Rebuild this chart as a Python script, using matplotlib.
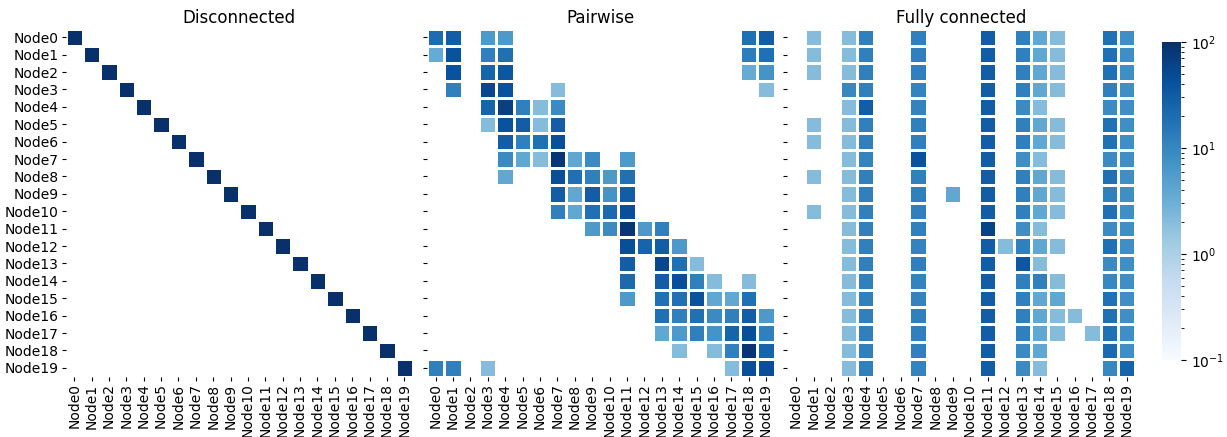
import numpy as np
import matplotlib.pyplot as plt
from matplotlib.colors import LogNorm

N = 20
NODES = [f"Node{i}" for i in range(N)]
TITLES = ["Disconnected", "Pairwise", "Fully connected"]

# Disconnected: each node only talks to itself
DISCONNECTED_DIAG = [100] * N

# Pairwise: one dict per row, {column: value}
PAIRWISE_ROWS = [
    {0: 20, 1: 30, 3: 6, 4: 6, 18: 18, 19: 30},
    {0: 3.5, 1: 40, 3: 12, 4: 18, 18: 13, 19: 18},
    {1: 40, 3: 25, 4: 35, 18: 3.5, 19: 7},
    {1: 12, 3: 55, 4: 40, 7: 2, 19: 2},
    {3: 25, 4: 65, 5: 12, 6: 2, 7: 9},
    {3: 2, 4: 40, 5: 30, 6: 2, 7: 30},
    {4: 30, 5: 12, 6: 18, 7: 45},
    {4: 9, 5: 4, 6: 2, 7: 85, 8: 4, 9: 9, 11: 6},
    {4: 4, 7: 45, 8: 18, 9: 12, 10: 6, 11: 18},
    {7: 30, 8: 4, 9: 30, 10: 7, 11: 30},
    {7: 12, 8: 4, 9: 18, 10: 22, 11: 45},
    {9: 6, 10: 9, 11: 85, 12: 6, 13: 12},
    {11: 45, 12: 25, 13: 30, 14: 6},
    {11: 30, 13: 55, 14: 18, 15: 2},
    {11: 22, 13: 30, 14: 45, 15: 12, 16: 2, 18: 2},
    {11: 6, 13: 18, 14: 18, 15: 40, 16: 4, 17: 4, 18: 18},
    {13: 18, 14: 12, 15: 18, 16: 9, 17: 12, 18: 30, 19: 6},
    {13: 4, 14: 6, 15: 12, 16: 7, 17: 25, 18: 45, 19: 12},
    {14: 2, 16: 2, 17: 12, 18: 85, 19: 25},
    {0: 12, 1: 12, 3: 2, 17: 2, 18: 45, 19: 45},
]

# Fully connected: one list per column (20 rows), 0 = no traffic
FULL_COLUMNS = {
    1: [2, 2, 2, 0, 0, 2, 2, 0, 2, 0, 2, 0, 0, 0, 0, 0, 0, 0, 0, 0],
    3: [2, 2, 2, 10, 2, 2, 2, 2, 2, 2, 2, 2, 2, 2, 2, 2, 2, 2, 2, 2],
    4: [12, 12, 12, 12, 30, 12, 12, 11, 12, 12, 12, 12, 12, 12, 12, 12, 12, 12, 12, 12],
    7: [12, 12, 12, 11, 11, 12, 12, 40, 12, 12, 12, 12, 11, 12, 11, 11, 12, 12, 12, 11],
    9: [0, 0, 0, 0, 0, 0, 0, 0, 0, 4, 0, 0, 0, 0, 0, 0, 0, 0, 0, 0],
    11: [30, 30, 30, 30, 30, 30, 30, 30, 30, 30, 30, 60, 30, 30, 30, 30, 30, 30, 30, 30],
    12: [0, 0, 0, 0, 0, 0, 0, 0, 0, 0, 0, 0, 2, 0, 0, 0, 0, 0, 0, 0],
    13: [12, 12, 12, 12, 9, 12, 12, 8, 12, 12, 12, 8, 12, 35, 12, 12, 12, 12, 9, 9],
    14: [4, 4, 4, 4, 2, 4, 4, 2, 4, 4, 4, 2, 4, 2, 12, 4, 4, 4, 4, 2],
    15: [2, 2, 2, 2, 0, 2, 2, 0, 2, 2, 2, 0, 2, 0, 2, 4, 2, 2, 0, 0],
    16: [0, 0, 0, 0, 0, 0, 0, 0, 0, 0, 0, 0, 0, 0, 0, 0, 2, 0, 0, 0],
    17: [0, 0, 0, 0, 0, 0, 0, 0, 0, 0, 0, 0, 0, 0, 0, 0, 0, 2, 0, 0],
    18: [18, 18, 18, 12, 9, 18, 18, 9, 18, 12, 18, 9, 18, 9, 10, 18, 18, 18, 22, 10],
    19: [8, 8, 8, 8, 8, 8, 8, 8, 8, 8, 8, 8, 8, 8, 8, 8, 8, 8, 8, 25],
}


def build_matrices():
    disc = np.zeros((N, N))
    disc[np.arange(N), np.arange(N)] = DISCONNECTED_DIAG

    pair = np.zeros((N, N))
    for r, row in enumerate(PAIRWISE_ROWS):
        for c, v in row.items():
            pair[r, c] = v

    full = np.zeros((N, N))
    for c, col in FULL_COLUMNS.items():
        full[:, c] = col
    return [disc, pair, full]


W, H = 1227, 437
fig = plt.figure(figsize=(W / 100, H / 100), dpi=100)
norm = LogNorm(vmin=0.1, vmax=100)

# axes boxes in pixels: left, right
panel_x = [(65.5, 413), (426.8, 774.8), (787.4, 1135.4)]
top_px, bot_px = 28.5, 376.5

mesh = None
for i, (mat, title, (x0, x1)) in enumerate(zip(build_matrices(), TITLES, panel_x)):
    ax = fig.add_axes([x0 / W, (H - bot_px) / H, (x1 - x0) / W, (bot_px - top_px) / H])
    data = np.ma.masked_where(mat <= 0, mat)
    mesh = ax.pcolormesh(data, cmap="Blues", norm=norm, edgecolors="white", linewidth=1)
    ax.set_xlim(0, N)
    ax.set_ylim(N, 0)
    ax.set_xticks(np.arange(N) + 0.5)
    ax.set_xticklabels(NODES, rotation=90, fontsize=10)
    ax.set_yticks(np.arange(N) + 0.5)
    if i == 0:
        ax.set_yticklabels(NODES, fontsize=10)
    else:
        ax.set_yticklabels([])
    ax.tick_params(length=3, pad=2)
    for s in ax.spines.values():
        s.set_visible(False)
    ax.set_title(title, fontsize=12, pad=4)

cax = fig.add_axes([1162 / W, (H - 360) / H, 19 / W, 318 / H])
cb = fig.colorbar(mesh, cax=cax)
cb.outline.set_visible(False)
cb.ax.tick_params(labelsize=10)

fig.savefig("out.png", dpi=100)
